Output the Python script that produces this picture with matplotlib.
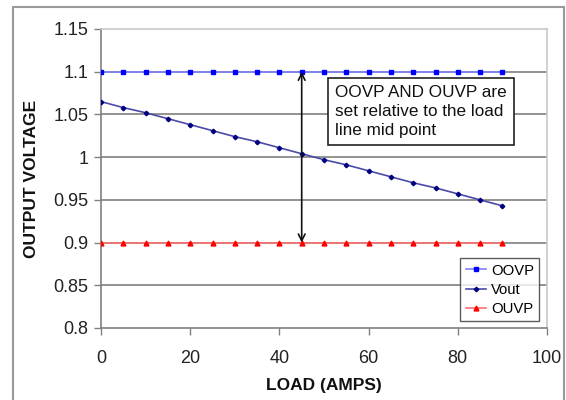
import matplotlib
matplotlib.use("Agg")
import matplotlib.pyplot as plt
from matplotlib.patches import Rectangle

plt.rcParams['font.family'] = ['Liberation Sans', 'DejaVu Sans']

load = [0, 5, 10, 15, 20, 25, 30, 35, 40, 45, 50, 55, 60, 65, 70, 75, 80, 85, 90]
oovp = [1.1] * 19
vout = [1.065, 1.058, 1.052, 1.045, 1.038, 1.031, 1.024, 1.018, 1.011, 1.004,
        0.997, 0.991, 0.984, 0.977, 0.970, 0.964, 0.957, 0.950, 0.943]
ouvp = [0.9] * 19
yticks = [0.8, 0.85, 0.9, 0.95, 1.0, 1.05, 1.1, 1.15]
ytick_labels = ['0.8', '0.85', '0.9', '0.95', '1', '1.05', '1.1', '1.15']
xticks = [0, 20, 40, 60, 80, 100]
note = "OOVP AND OUVP are\nset relative to the load\nline mid point"

fig = plt.figure(figsize=(5.66, 4.0), dpi=100)
W, H = 566, 400
ax = fig.add_axes([101 / W, 1 - 328 / H, 446 / W, 299 / H])

# outer frame
fig.patches.append(Rectangle((13 / W, -0.05), 551 / W, 1.05 - 7 / H, transform=fig.transFigure,
                             fill=False, edgecolor='#9a9a9a', lw=1.5))

ax.set_xlim(0, 100)
ax.set_ylim(0.8, 1.15)
ax.set_yticks(yticks)
ax.set_yticklabels(ytick_labels)
ax.set_xticks(xticks)
ax.tick_params(axis='both', labelsize=13, colors='#222222', direction='out', length=5,
               width=1, pad=4)
ax.tick_params(axis='x', pad=10.5)
ax.tick_params(axis='both', color='#808080')

for y in yticks[1:-1]:
    ax.axhline(y, color='#808080', lw=1.2, zorder=1)

ax.spines['left'].set_color('#808080')
ax.spines['bottom'].set_color('#808080')
ax.spines['top'].set_color('#c8c8c8')
ax.spines['right'].set_color('#c8c8c8')
for s in ax.spines.values():
    s.set_linewidth(1.2)

ax.plot(load, oovp, color='#8080ff', lw=1.2, marker='s', ms=3.3, mfc='#0000ff', mec='#0000ff',
        label='OOVP', zorder=3)
ax.plot(load, vout, color='#4a4aa8', lw=1.2, marker='D', ms=2.3, mfc='#000080', mec='#000080',
        label='Vout', zorder=3)
ax.plot(load, ouvp, color='#ff7070', lw=1.2, marker='^', ms=3.5, mfc='#ff0000', mec='#ff0000',
        label='OUVP', zorder=3)

ax.annotate('', xy=(45, 1.1), xytext=(45, 0.9),
            arrowprops=dict(arrowstyle='<->', color='#111111', lw=1.2,
                            shrinkA=0, shrinkB=0, mutation_scale=12), zorder=4)

ax.text(52.4, 1.084, note, fontsize=12.3, color='#111111', va='top', ha='left',
        linespacing=1.33, zorder=5,
        bbox=dict(boxstyle='square,pad=0.42', fc='white', ec='#222222', lw=1.2))

leg = ax.legend(loc='lower right', bbox_to_anchor=(0.982, 0.023), borderaxespad=0,
                fontsize=10.7, frameon=True, fancybox=False, edgecolor='#333333',
                handlelength=1.4, handletextpad=0.3, borderpad=0.35, labelspacing=0.35)
leg.get_frame().set_linewidth(1.0)

ax.set_xlabel('LOAD (AMPS)', fontsize=12.5, fontweight='bold', color='#111111', labelpad=8)
ax.set_ylabel('OUTPUT VOLTAGE', fontsize=12.5, fontweight='bold', color='#111111', labelpad=10)

fig.savefig('out.png', dpi=100)
